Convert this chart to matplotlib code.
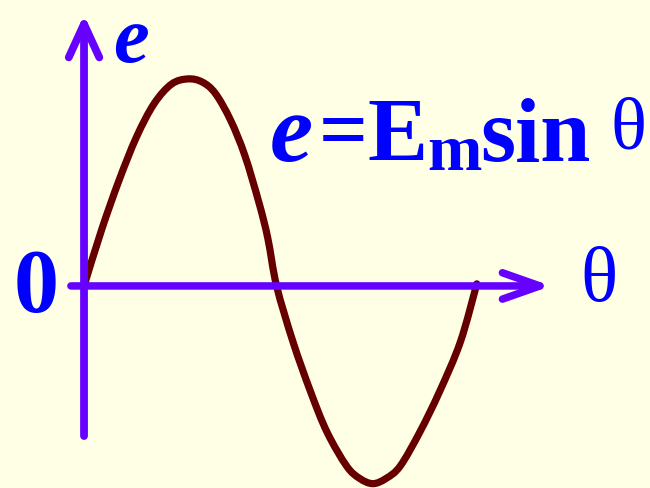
import matplotlib
matplotlib.use("Agg")
import matplotlib.pyplot as plt
from matplotlib.path import Path
from matplotlib.patches import PathPatch

# ==== data (theta in degrees, e as a fraction of Em) ====
theta_deg = [0, 16, 32, 48, 64, 80, 95, 108, 120, 134, 147, 160, 168, 176,
             191, 207, 222, 240, 252, 264, 276, 289, 307, 325, 344, 359]
e_val = [0, 0.27, 0.51, 0.72, 0.88, 0.975, 1.0, 0.985, 0.93, 0.80, 0.63, 0.40,
         0.23, 0,
         -0.27, -0.51, -0.705, -0.87, -0.93, -0.955, -0.93, -0.87, -0.705, -0.51,
         -0.27, 0.01]

# ==== colours ====
bg = "#FFFFE6"
axis_col = "#6600FF"
curve_col = "#660000"
text_col = "#0000FF"

fig = plt.figure(figsize=(6.5, 4.89), dpi=100, facecolor=bg)
ax = fig.add_axes([0, 0, 1, 1])
ax.set_facecolor(bg)
ax.set_xlim(-76.8, 517.3)
ax.set_ylim(-0.976, 1.386)
ax.axis("off")

# axes with arrows
ax.annotate("", xy=(0, 1.31), xytext=(0, -0.725),
            arrowprops=dict(arrowstyle="->,head_length=2.4,head_width=1.1",
                            lw=5.6, color=axis_col, shrinkA=0, shrinkB=0,
                            capstyle="round", joinstyle="round"))
ax.annotate("", xy=(427, 0), xytext=(-12, 0),
            arrowprops=dict(arrowstyle="->,head_length=2.7,head_width=0.95",
                            lw=5.4, color=axis_col, shrinkA=0, shrinkB=0,
                            capstyle="round", joinstyle="round"))

# the sine curve, drawn as a smooth path through the read points
pts = list(zip(theta_deg, e_val))
n = len(pts)
verts = [pts[0]]
codes = [Path.MOVETO]
for i in range(n - 1):
    p0 = pts[i - 1] if i > 0 else pts[i]
    p1 = pts[i]
    p2 = pts[i + 1]
    p3 = pts[i + 2] if i + 2 < n else pts[i + 1]
    c1 = (p1[0] + (p2[0] - p0[0]) / 6, p1[1] + (p2[1] - p0[1]) / 6)
    c2 = (p2[0] - (p3[0] - p1[0]) / 6, p2[1] - (p3[1] - p1[1]) / 6)
    verts += [c1, c2, p2]
    codes += [Path.CURVE4] * 3
ax.add_patch(PathPatch(Path(verts, codes), fill=False, edgecolor=curve_col,
                       lw=5.2, capstyle="round", joinstyle="round"))

serif = "Liberation Serif"


def px(x, y):
    return x / 650, 1 - y / 489


# labels
fig.text(*px(131, 62), "e", fontsize=58, family=serif, style="italic",
         weight="bold", color=text_col, ha="center", va="baseline")
fig.text(*px(36, 312), "0", fontsize=65, family=serif, weight="bold",
         color=text_col, ha="center", va="baseline")
fig.text(*px(599, 301), "θ", fontsize=56, family=serif, color=text_col,
         ha="center", va="baseline")

# formula e = Em sin θ
fig.text(*px(270, 161), "e", fontsize=70, family=serif, style="italic",
         weight="bold", color=text_col, ha="left", va="baseline")
fig.text(*px(343, 158), "=", fontsize=62, family=serif, weight="bold",
         color=text_col, ha="center", va="baseline")
fig.text(*px(367, 161), "E", fontsize=65, family=serif, weight="bold",
         color=text_col, ha="left", va="baseline")
fig.text(*px(427, 170), "m", fontsize=47, family=serif, weight="bold",
         color=text_col, ha="left", va="baseline")
fig.text(*px(480, 161), "sin", fontsize=65, family=serif, weight="bold",
         color=text_col, ha="left", va="baseline")
fig.text(*px(628, 149), "θ", fontsize=54, family=serif, color=text_col,
         ha="center", va="baseline")

fig.savefig("out.png", dpi=100, facecolor=bg)
